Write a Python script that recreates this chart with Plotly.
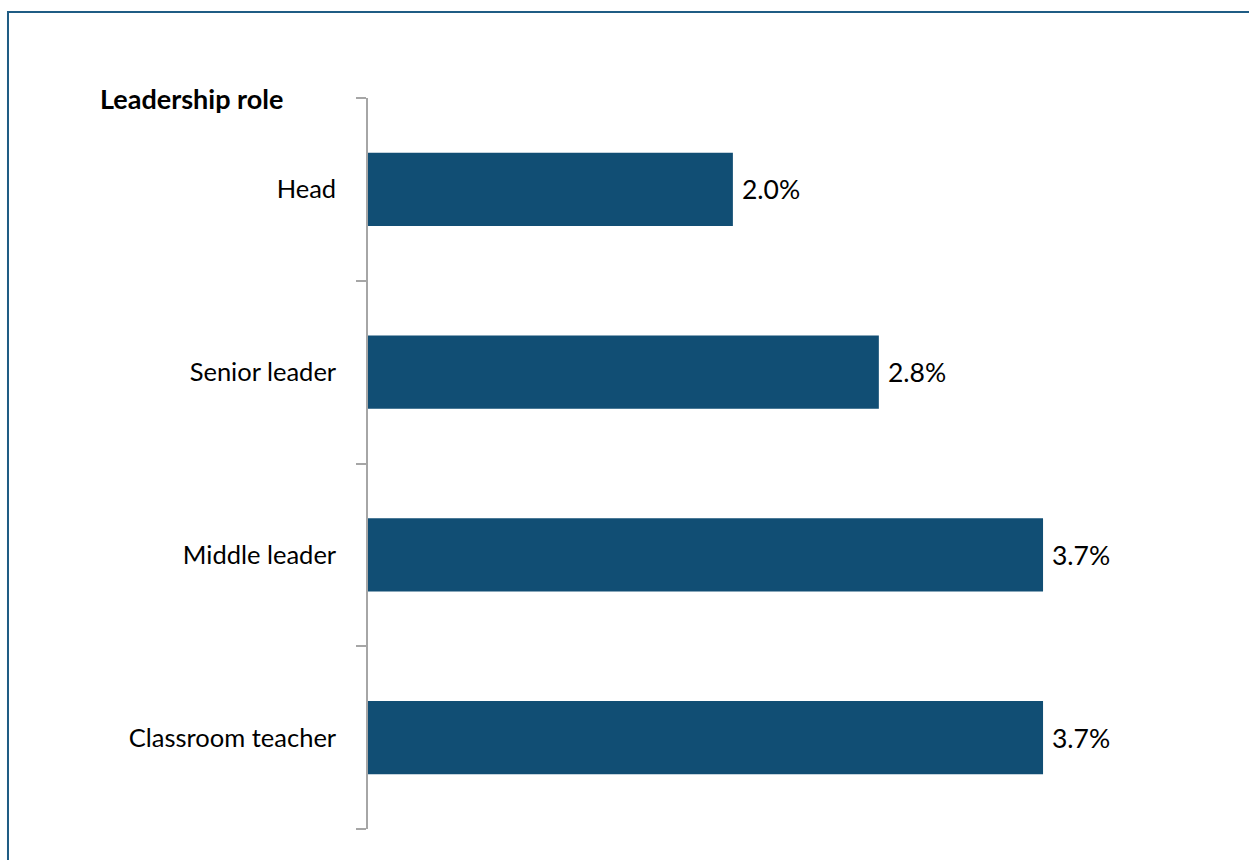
import plotly.graph_objects as go

# Share of staff by leadership role
roles = ["Head", "Senior leader", "Middle leader", "Classroom teacher"]
rates = [2.0, 2.8, 3.7, 3.7]
rate_labels = ["2.0%", "2.8%", "3.7%", "3.7%"]

BAR_COLOR = "#114E74"
FRAME_COLOR = "#1F5C84"
AXIS_GREY = "#A6A6A6"
FONT = "Lato, Carlito, Calibri, sans-serif"
FONT_SIZE = 25.5

fig = go.Figure(
    go.Bar(
        x=rates,
        y=roles,
        orientation="h",
        marker=dict(color=BAR_COLOR, line=dict(width=0)),
        width=0.4,
        hoverinfo="skip",
    )
)

# value labels just past the end of each bar
value_notes = [
    dict(
        x=v,
        y=r,
        xref="x",
        yref="y",
        text=t,
        xanchor="left",
        yanchor="middle",
        xshift=7,
        showarrow=False,
        font=dict(family=FONT, size=26.5, color="#000000"),
    )
    for r, v, t in zip(roles, rates, rate_labels)
]

fig.update_layout(
    width=1249,
    height=860,
    margin=dict(l=368, r=60, t=98, b=31),
    paper_bgcolor="white",
    plot_bgcolor="white",
    showlegend=False,
    font=dict(family=FONT, size=FONT_SIZE, color="#000000"),
    xaxis=dict(
        range=[0, 4.5],
        visible=False,
        showgrid=False,
        zeroline=False,
    ),
    yaxis=dict(
        type="category",
        categoryorder="array",
        categoryarray=roles[::-1],
        showline=True,
        linecolor=AXIS_GREY,
        linewidth=1.5,
        ticks="outside",
        tickson="boundaries",
        ticklen=10,
        tickwidth=1.5,
        tickcolor=AXIS_GREY,
        ticklabelstandoff=25,
        showgrid=False,
        zeroline=False,
        tickfont=dict(family=FONT, size=FONT_SIZE, color="#000000"),
    ),
    annotations=value_notes
    + [
        dict(
            text="<b>Leadership role</b>",
            xref="paper",
            yref="paper",
            x=-0.1011,
            y=1.0,
            xanchor="right",
            yanchor="middle",
            showarrow=False,
            font=dict(family=FONT, size=27, color="#000000"),
        )
    ],
    shapes=[
        dict(
            type="rect",
            xref="paper",
            yref="paper",
            x0=-0.4385,
            x1=1.2,
            y0=-0.2,
            y1=1.1176,
            line=dict(color=FRAME_COLOR, width=2),
            fillcolor="rgba(0,0,0,0)",
            layer="below",
        )
    ],
)

fig.write_html("out.html")
